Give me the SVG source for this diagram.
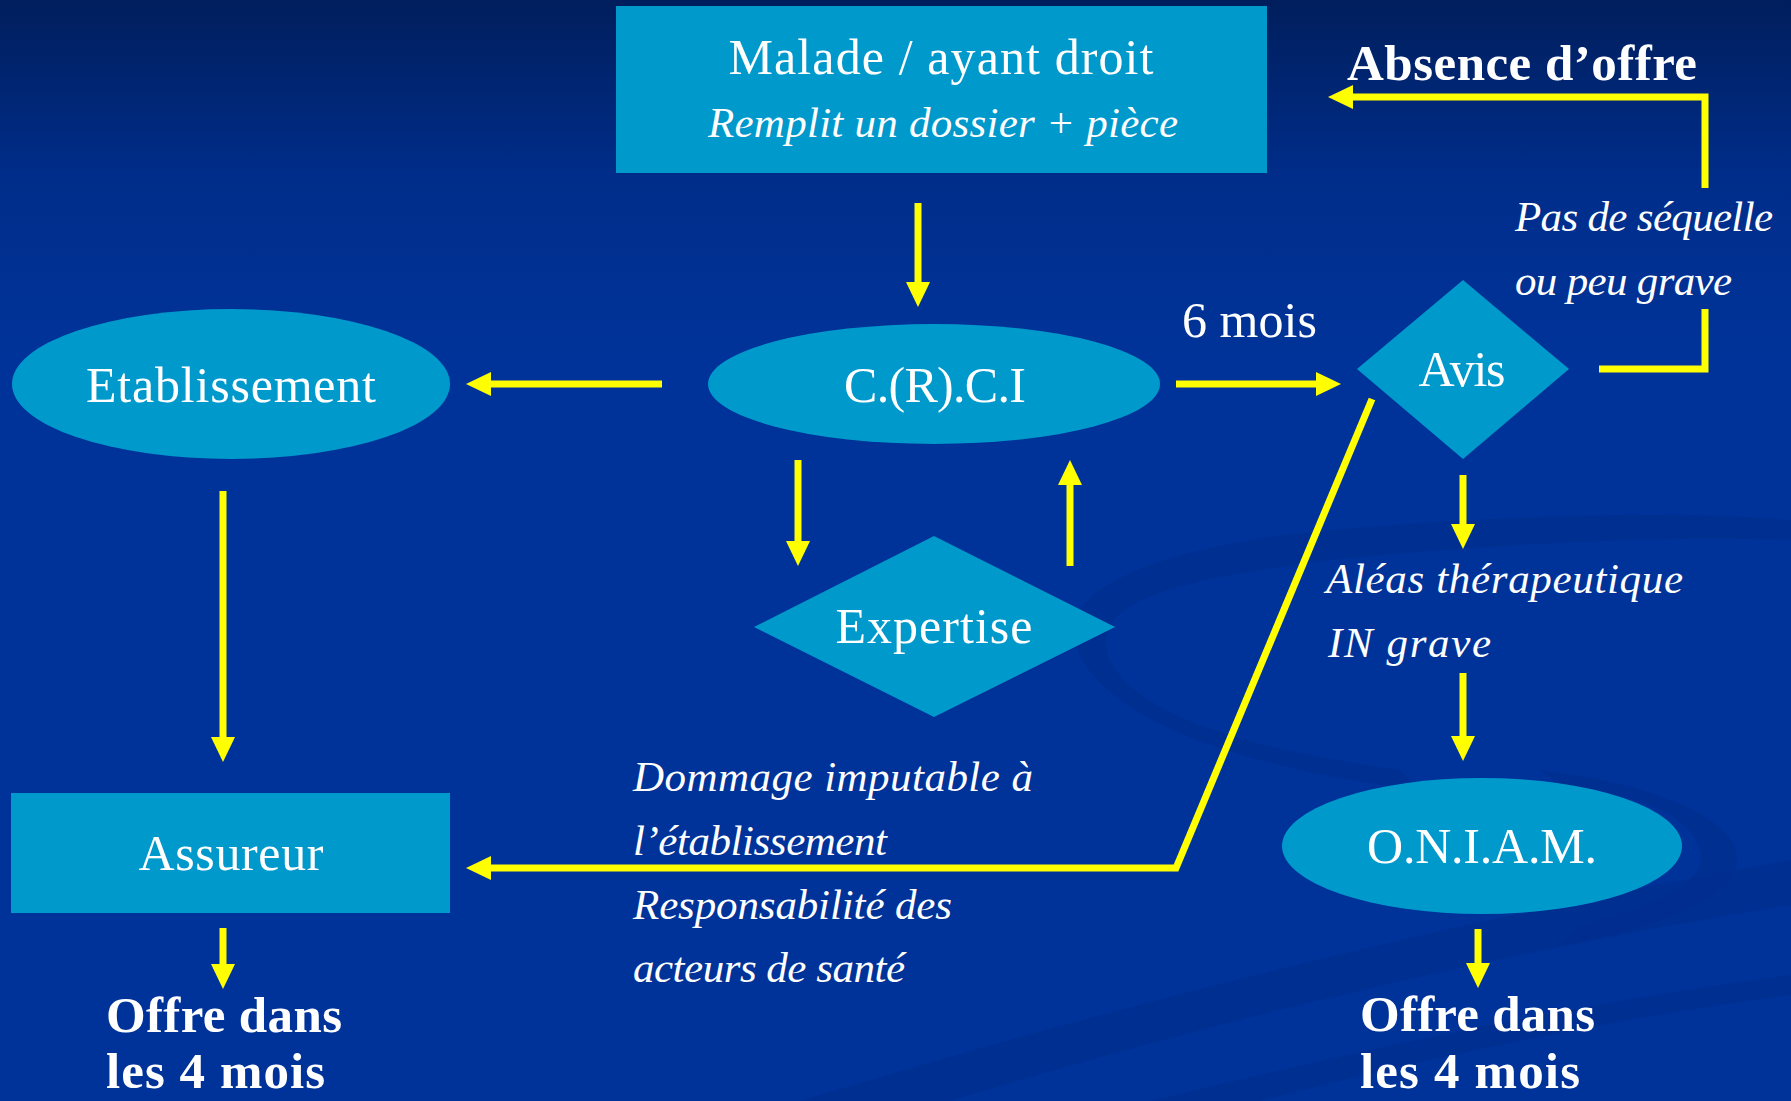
<svg xmlns="http://www.w3.org/2000/svg" width="1791" height="1101" viewBox="0 0 1791 1101">
  <defs>
    <linearGradient id="bg" x1="0" y1="0" x2="0" y2="1">
      <stop offset="0" stop-color="#001e5c"/>
      <stop offset="0.16" stop-color="#002d8a"/>
      <stop offset="0.32" stop-color="#003399"/>
      <stop offset="1" stop-color="#003399"/>
    </linearGradient>
    <marker id="ah" markerUnits="userSpaceOnUse" markerWidth="25" markerHeight="24" refX="0" refY="12" orient="auto" viewBox="0 0 25 24">
      <path d="M0,0 L25,12 L0,24 z" fill="#ffff00"/>
    </marker>
    <style>
      .node { fill: #0099cc; }
      .t { fill: #ffffff; font-family: "Liberation Serif", "Times New Roman", serif; }
      .up { font-size: 50px; }
      .it { font-size: 43px; font-style: italic; }
      .bd { font-size: 51px; font-weight: bold; }
      .c { stroke: #ffff00; stroke-width: 7; fill: none; stroke-linejoin: miter; }
      .swoosh { fill: #002c8c; opacity: 0.55; }
    </style>
  </defs>

  <rect x="0" y="0" width="1791" height="1101" fill="url(#bg)"/>

  <!-- background swooshes -->
  <g id="background">
    <path class="swoosh" d="M1074,640 C1060,590 1160,545 1330,530 C1500,515 1680,510 1791,520 L1791,540 C1660,535 1480,545 1330,560 C1180,580 1085,600 1110,660 C1140,720 1260,750 1400,770 L1420,790 C1250,770 1095,720 1074,640 z"/>
    <path class="swoosh" d="M1540,770 C1700,790 1760,840 1730,880 C1700,915 1620,935 1560,945 L1580,925 C1660,905 1710,880 1700,850 C1690,815 1640,795 1560,785 z"/>
    <path class="swoosh" d="M800,1101 C1100,1010 1450,920 1791,860 L1791,905 C1450,960 1150,1040 950,1101 z"/>
    <path class="swoosh" d="M1150,1101 C1400,1040 1600,1000 1791,975 L1791,995 C1600,1020 1420,1060 1260,1101 z"/>
  </g>

  <g id="connectors">
    <line class="c" x1="918" y1="203" x2="918" y2="282" marker-end="url(#ah)"/>
    <line class="c" x1="662" y1="384" x2="491" y2="384" marker-end="url(#ah)"/>
    <line class="c" x1="1176" y1="384" x2="1316" y2="384" marker-end="url(#ah)"/>
    <line class="c" x1="798" y1="460" x2="798" y2="541" marker-end="url(#ah)"/>
    <line class="c" x1="1070" y1="566" x2="1070" y2="485" marker-end="url(#ah)"/>
    <line class="c" x1="223" y1="491" x2="223" y2="737" marker-end="url(#ah)"/>
    <line class="c" x1="223" y1="928" x2="223" y2="964" marker-end="url(#ah)"/>
    <polyline class="c" points="1372,399 1176,868 491,868" marker-end="url(#ah)"/>
    <line class="c" x1="1463" y1="475" x2="1463" y2="524" marker-end="url(#ah)"/>
    <line class="c" x1="1463" y1="673" x2="1463" y2="736" marker-end="url(#ah)"/>
    <line class="c" x1="1478" y1="929" x2="1478" y2="963" marker-end="url(#ah)"/>
    <polyline class="c" points="1599,369 1705,369 1705,309"/>
    <polyline class="c" points="1705,188 1705,97 1353,97" marker-end="url(#ah)"/>
  </g>

  <g id="malade">
    <rect class="node" x="616" y="6" width="651" height="167"/>
    <text class="t up" x="941" y="74" text-anchor="middle" textLength="425" lengthAdjust="spacing">Malade / ayant droit</text>
    <text class="t it" x="943" y="137" text-anchor="middle" textLength="470" lengthAdjust="spacing">Remplit un dossier + pièce</text>
  </g>

  <g id="crci">
    <ellipse class="node" cx="934" cy="384" rx="226" ry="60"/>
    <text class="t up" x="935" y="402" text-anchor="middle" textLength="182" lengthAdjust="spacing">C.(R).C.I</text>
  </g>

  <g id="etablissement">
    <ellipse class="node" cx="231" cy="384" rx="219" ry="75"/>
    <text class="t up" x="231" y="402" text-anchor="middle" textLength="290" lengthAdjust="spacing">Etablissement</text>
  </g>

  <g id="expertise">
    <polygon class="node" points="934,536 1115,627 934,717 754,627"/>
    <text class="t up" x="934" y="643" text-anchor="middle" textLength="197" lengthAdjust="spacing">Expertise</text>
  </g>

  <g id="avis">
    <polygon class="node" points="1463,280 1569,369 1463,459 1357,369"/>
    <text class="t up" x="1462" y="386" text-anchor="middle" textLength="87" lengthAdjust="spacing">Avis</text>
  </g>

  <g id="assureur">
    <rect class="node" x="11" y="793" width="439" height="120"/>
    <text class="t up" x="231" y="870" text-anchor="middle" textLength="185" lengthAdjust="spacing">Assureur</text>
  </g>

  <g id="oniam">
    <ellipse class="node" cx="1482" cy="846" rx="200" ry="68"/>
    <text class="t up" x="1482" y="863" text-anchor="middle" textLength="230" lengthAdjust="spacing">O.N.I.A.M.</text>
  </g>

  <g id="absence">
    <text class="t bd" x="1347" y="80" textLength="350" lengthAdjust="spacing">Absence d’offre</text>
  </g>

  <g id="labels">
    <text class="t it" x="1515" y="231" textLength="258" lengthAdjust="spacing">Pas de séquelle</text>
    <text class="t it" x="1515" y="295" textLength="217" lengthAdjust="spacing">ou peu grave</text>
    <text class="t up" x="1182" y="337" textLength="135" lengthAdjust="spacing">6 mois</text>
    <text class="t it" x="1326" y="593" textLength="357" lengthAdjust="spacing">Aléas thérapeutique</text>
    <text class="t it" x="1328" y="657" textLength="163" lengthAdjust="spacing">IN grave</text>
    <text class="t it" x="633" y="791" textLength="400" lengthAdjust="spacing">Dommage imputable à</text>
    <text class="t it" x="633" y="855" textLength="254" lengthAdjust="spacing">l’établissement</text>
    <text class="t it" x="633" y="919" textLength="319" lengthAdjust="spacing">Responsabilité des</text>
    <text class="t it" x="633" y="982" textLength="272" lengthAdjust="spacing">acteurs de santé</text>
  </g>

  <g id="offre-assureur">
    <text class="t bd" x="106" y="1032" textLength="236" lengthAdjust="spacing">Offre dans</text>
    <text class="t bd" x="106" y="1088" textLength="219" lengthAdjust="spacing">les 4 mois</text>
  </g>

  <g id="offre-oniam">
    <text class="t bd" x="1360" y="1031" textLength="235" lengthAdjust="spacing">Offre dans</text>
    <text class="t bd" x="1360" y="1088" textLength="220" lengthAdjust="spacing">les 4 mois</text>
  </g>
</svg>
